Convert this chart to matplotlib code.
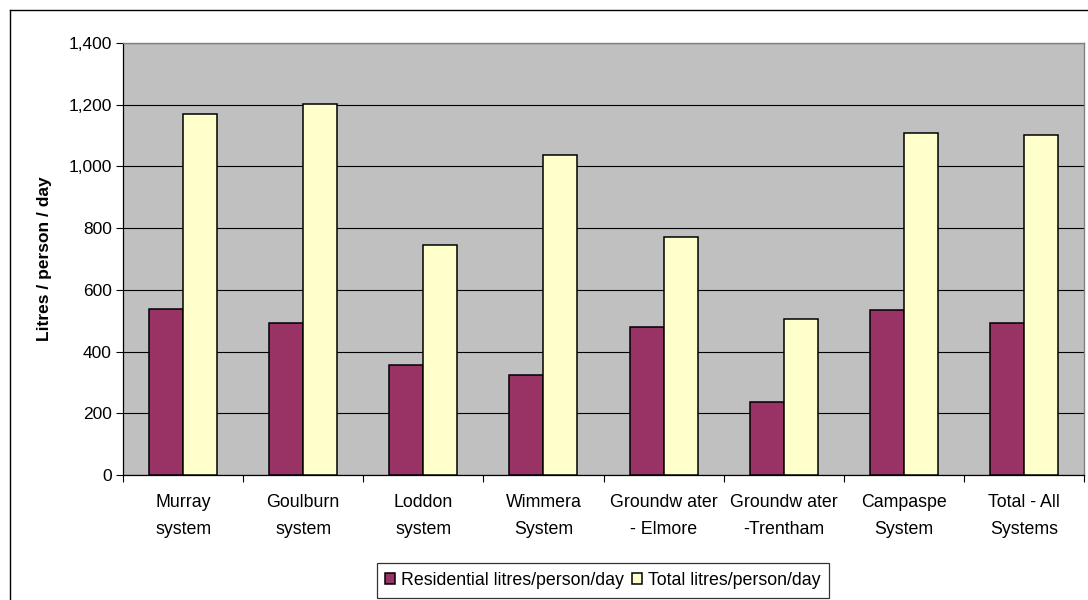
import matplotlib
matplotlib.use("Agg")
import matplotlib.pyplot as plt
from matplotlib.lines import Line2D
import numpy as np

plt.rcParams['font.family'] = ['Liberation Sans', 'DejaVu Sans']

categories = ["Murray\nsystem", "Goulburn\nsystem", "Loddon\nsystem", "Wimmera\nSystem",
              "Groundw ater\n- Elmore", "Groundw ater\n-Trentham", "Campaspe\nSystem",
              "Total - All\nSystems"]
residential = [539, 492, 356, 323, 480, 237, 534, 492]
total = [1171, 1203, 745, 1037, 772, 506, 1107, 1103]
series_names = ["Residential litres/person/day", "Total litres/person/day"]
yticks = [0, 200, 400, 600, 800, 1000, 1200, 1400]

fig = plt.figure(figsize=(10.88, 6.0), dpi=100)
fig.patch.set_facecolor('white')

# outer chart frame (only top/left edges visible in reference)
fig.add_artist(Line2D([10/1088, 10/1088], [0, 1 - 10/600], transform=fig.transFigure,
                      color='black', lw=1.0))
fig.add_artist(Line2D([10/1088, 1], [1 - 10/600, 1 - 10/600], transform=fig.transFigure,
                      color='black', lw=1.0))

ax = fig.add_axes([123/1088, 1 - 475/600, (1084 - 123)/1088, (475 - 43)/600])
ax.set_facecolor('#C0C0C0')

x = np.arange(len(categories))
w = 34/120
ax.bar(x - w/2, residential, width=w, color='#993366', edgecolor='black', linewidth=1.1,
       label=series_names[0], zorder=3)
ax.bar(x + w/2, total, width=w, color='#FFFFCC', edgecolor='black', linewidth=1.1,
       label=series_names[1], zorder=3)

ax.set_xlim(-0.5, len(categories) - 0.5)
ax.set_ylim(0, 1400)
ax.set_yticks(yticks)
ax.set_yticklabels([f"{v:,}" for v in yticks], fontsize=12.5)
ax.yaxis.grid(True, color='black', linewidth=0.8, zorder=1)
ax.set_axisbelow(True)

ax.set_xticks(np.arange(len(categories) + 1) - 0.5)
ax.set_xticklabels([])
ax.set_xticks(x, minor=True)
ax.set_xticklabels(categories, minor=True, fontsize=12.8, linespacing=1.75)
ax.tick_params(axis='x', which='minor', length=0, pad=14)
ax.tick_params(axis='x', which='major', length=5, width=0.8, direction='out')
ax.tick_params(axis='y', length=5, width=0.8, direction='out', pad=3)

for s in ['top', 'right']:
    ax.spines[s].set_color('#808080')
    ax.spines[s].set_linewidth(1.0)
for s in ['left', 'bottom']:
    ax.spines[s].set_color('black')
    ax.spines[s].set_linewidth(0.9)

ax.set_ylabel("Litres / person / day", fontsize=12.5, fontweight='bold', labelpad=12)

leg = fig.legend(loc='center', bbox_to_anchor=(603/1088, 1 - 580.5/600), ncol=2,
                 fontsize=12.8, frameon=True, fancybox=False, edgecolor='black',
                 handlelength=0.56, handleheight=0.56, handletextpad=0.33,
                 columnspacing=0.45, borderpad=0.5, borderaxespad=0)
leg.get_frame().set_linewidth(0.9)

fig.savefig("out.png", dpi=100)
